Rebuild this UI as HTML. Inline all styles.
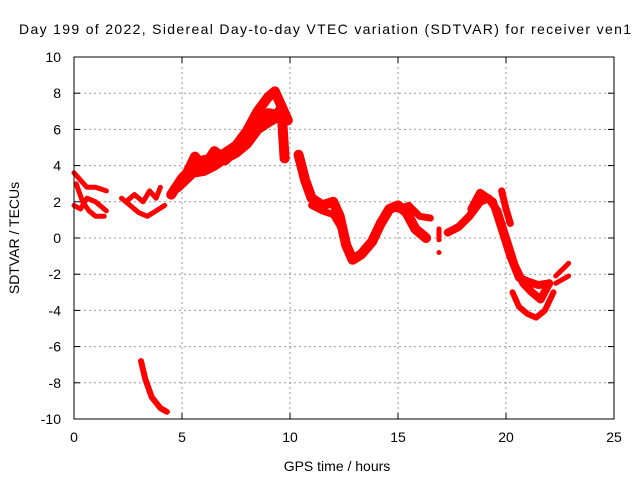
<!DOCTYPE html>
<html><head><meta charset="utf-8"><style>
html,body{margin:0;padding:0;background:#fff}
svg{display:block;font-family:"Liberation Sans",sans-serif}
</style></head><body>
<svg id="chart" width="640" height="480">
<text x="325" y="34" text-anchor="middle" font-size="14" textLength="612">Day 199 of 2022, Sidereal Day-to-day VTEC variation (SDTVAR) for receiver ven1</text>
<text x="337" y="471" text-anchor="middle" font-size="14">GPS time / hours</text>
<text transform="translate(19,238) rotate(-90)" text-anchor="middle" font-size="14">SDTVAR / TECUs</text>
<g id="grid"></g><g id="ticks"></g><g id="series"></g>
<rect x="74" y="57" width="540" height="362" fill="none" stroke="#000" stroke-width="1"/>
</svg>
<script>
const xTicks=[0,5,10,15,20,25];
const yTicks=[-10,-8,-6,-4,-2,0,2,4,6,8,10];
const trackA1=[[0,3.6],[0.3,3.2],[0.6,2.8],[1.0,2.8],[1.5,2.6]];
const trackA2=[[0,1.8],[0.3,1.6],[0.6,2.2],[1.0,2.0],[1.5,1.5]];
const trackA3=[[0.1,3.0],[0.4,2.0],[0.7,1.5],[1.0,1.2],[1.4,1.2]];
const trackB1=[[2.2,2.2],[2.6,1.8],[3.0,1.4],[3.4,1.2],[3.8,1.5],[4.2,1.8]];
const trackB2=[[2.4,2.0],[2.8,2.4],[3.2,2.0],[3.5,2.6],[3.8,2.2],[4.0,2.8]];
const trackC=[[3.1,-6.8],[3.3,-7.8],[3.6,-8.8],[4.0,-9.4],[4.3,-9.6]];
const trackD1=[[4.5,2.4],[5,3.3],[5.5,3.9],[6,4.3],[6.5,4.4],[7,4.7],[7.5,5.1],[8,5.9],[8.5,7],[9,7.8],[9.3,8.1],[9.6,7.3],[9.9,6.5]];
const trackD2=[[5.2,3.5],[5.6,4.5],[6,3.9],[6.5,4.8],[7,4.3],[7.5,4.9],[8,5.6],[8.5,6.4],[9,6.9],[9.4,6.8],[9.6,7.2],[9.75,4.4]];
const trackD3=[[4.8,2.8],[5.5,3.6],[6,3.7],[6.5,4.0],[7,4.4],[7.5,4.7],[8,5.2],[8.5,6.0],[9,6.4],[9.3,6.6]];
const trackE1=[[10.4,4.6],[10.7,3.2],[11,2.2],[11.5,1.8],[12,2.0],[12.3,1.2],[12.6,-0.4],[12.9,-1.2],[13.3,-0.9],[13.8,-0.2],[14.2,0.8],[14.6,1.6],[15,1.8],[15.4,1.4],[15.8,0.5],[16.3,0.0]];
const trackE2=[[11,1.8],[11.5,1.5],[12,1.3],[12.4,0.5]];
const trackE3=[[15.0,1.6],[15.5,1.8],[16,1.2],[16.5,1.1]];
const trackE4=[[16.9,0.5],[16.9,-0.1]];
const trackE5=[[16.9,-0.8],[16.9,-0.8]];
const trackF1=[[17.3,0.3],[17.8,0.6],[18.3,1.2],[18.8,2.0],[19.2,2.2],[19.6,1.5],[20,0],[20.4,-1.5],[20.8,-2.5],[21.2,-3.0],[21.6,-3.4],[22,-2.5]];
const trackF2=[[18.4,1.6],[18.8,2.5],[19.4,2.0],[19.8,0.5],[20.2,-1.0],[20.6,-2.2],[21,-2.4],[21.5,-2.6],[22,-2.5]];
const trackF3=[[20.3,-3.0],[20.6,-3.8],[21.0,-4.2],[21.4,-4.4],[21.8,-4.0],[22.2,-3.0]];
const trackF4=[[19.8,2.6],[20,1.6],[20.2,0.8]];
const trackG1=[[22.3,-2.1],[22.9,-1.4]];
const trackG2=[[22.3,-2.5],[22.9,-2.1]];
const tracks=[trackA1,trackA2,trackA3,trackB1,trackB2,trackC,trackD1,trackD2,trackD3,trackE1,trackE2,trackE3,trackE4,trackE5,trackF1,trackF2,trackF3,trackF4,trackG1,trackG2];
const widths=[5,5,5,5,5,6,10,10,10,10,7,7,5,5,8,8,6,7,5,5];

const X0=74,X1=614,Y0=419,Y1=57;
function sx(v){return X0+(v-0)/25*(X1-X0);}
function sy(v){return Y0-(v+10)/20*(Y0-Y1);}
const NS="http://www.w3.org/2000/svg";
const grid=document.getElementById('grid'),ticks=document.getElementById('ticks'),ser=document.getElementById('series');
function mk(tag,attrs,parent){const e=document.createElementNS(NS,tag);for(const k in attrs)e.setAttribute(k,attrs[k]);parent.appendChild(e);return e;}
xTicks.forEach(t=>{
  const x=sx(t);
  if(t>0&&t<25){const g=mk('line',{x1:x,x2:x,y1:Y1,y2:Y0,stroke:'#999','stroke-dasharray':'2,3'},grid);
  
  }
  mk('line',{x1:x,x2:x,y1:Y0,y2:Y0-6,stroke:'#000'},ticks);
  mk('line',{x1:x,x2:x,y1:Y1,y2:Y1+6,stroke:'#000'},ticks);
  const l=mk('text',{x:x,y:Y0+23,'text-anchor':'middle','font-size':14},ticks);
  l.textContent=t;
  
  
});
yTicks.forEach(t=>{
  const y=sy(t);
  if(t>-10&&t<10){const g=mk('line',{x1:X0,x2:X1,y1:y,y2:y,stroke:'#999','stroke-dasharray':'2,3'},grid);
  
  }
  mk('line',{x1:X0,x2:X0+6,y1:y,y2:y,stroke:'#000'},ticks);
  mk('line',{x1:X1,x2:X1-6,y1:y,y2:y,stroke:'#000'},ticks);
  const l=mk('text',{x:X0-13,y:y+5,'text-anchor':'end','font-size':14},ticks);
  l.textContent=t;
  
  
});
tracks.forEach((tr,i)=>{
  const pts=tr.map(p=>sx(p[0]).toFixed(1)+','+sy(p[1]).toFixed(1)).join(' ');
  const pl=mk('polyline',{points:pts,fill:'none',stroke:'#f00','stroke-width':widths[i],'stroke-linejoin':'round','stroke-linecap':'round'},ser);
  
  
});
</script>
</body></html>
